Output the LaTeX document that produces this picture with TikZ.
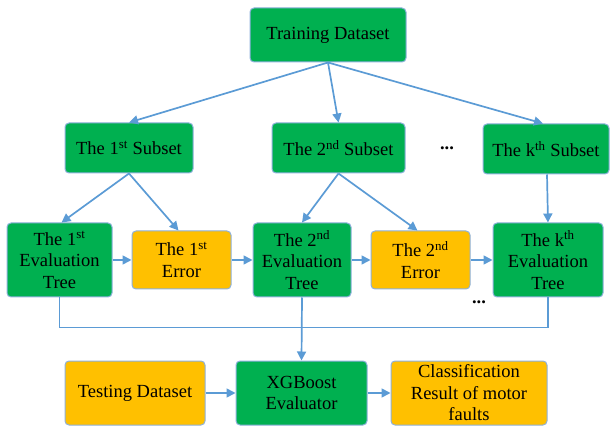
\documentclass[tikz,border=0pt]{standalone}
\usepackage{fontspec}
\setmainfont{Liberation Serif}
\usepackage{tikz}
\usetikzlibrary{arrows.meta}
\definecolor{boxgreen}{HTML}{00B050}
\definecolor{boxgold}{HTML}{FFC000}
\definecolor{rim}{HTML}{8EB1DC}
\definecolor{wire}{HTML}{5B9BD5}
\tikzset{
  box/.style={draw=rim, line width=1pt, rounded corners=4pt, align=center, inner sep=0pt,
    font=\fontsize{18.5}{21.5}\selectfont},
  gbox/.style={box, fill=boxgreen},
  obox/.style={box, fill=boxgold},
  wirel/.style={draw=wire, line width=1.7pt},
  flow/.style={wirel, -{Triangle[length=9pt,width=9pt]}},
  dots/.style={font=\fontsize{18.5}{21.5}\selectfont\bfseries},
}

\begin{document}
\begin{tikzpicture}[x=1pt,y=-1pt]
  \useasboundingbox (0,0) rectangle (610,427);

  % top level
  \node[gbox, minimum width=156pt, minimum height=54pt] (train) at (328,35) {Training Dataset};

  % subsets
  \node[gbox, minimum width=128pt, minimum height=50pt] (sub1) at (129,148) {The 1\textsuperscript{st} Subset};
  \node[gbox, minimum width=133pt, minimum height=50pt] (sub2) at (338.5,148) {The 2\textsuperscript{nd} Subset};
  \node[gbox, minimum width=126pt, minimum height=50pt] (subk) at (546,149) {The k\textsuperscript{th} Subset};
  \node[dots] (dots1) at (447,148) {...};

  % evaluation trees and errors
  \node[gbox, minimum width=105pt, minimum height=74pt] (eval1) at (59.5,260) {The 1\textsuperscript{st}\\Evaluation\\Tree};
  \node[obox, minimum width=99pt, minimum height=58pt] (err1) at (181.5,260) {The 1\textsuperscript{st}\\Error};
  \node[gbox, minimum width=98pt, minimum height=74pt] (eval2) at (302,260) {The 2\textsuperscript{nd}\\Evaluation\\Tree};
  \node[obox, minimum width=99pt, minimum height=58pt] (err2) at (420.5,260) {The 2\textsuperscript{nd}\\Error};
  \node[gbox, minimum width=110pt, minimum height=74pt] (evalk) at (548,260) {The k\textsuperscript{th}\\Evaluation\\Tree};
  \node[dots] (dots2) at (479,302) {...};

  % bottom row
  \node[obox, minimum width=140pt, minimum height=64pt] (test) at (135,393) {Testing Dataset};
  \node[gbox, minimum width=131pt, minimum height=64pt] (xgb) at (301.5,393) {XGBoost\\Evaluator};
  \node[obox, minimum width=156pt, minimum height=64pt] (cls) at (469,393) {Classification\\Result of motor\\faults};

  % connectors
  \draw[flow] (train.south) -- (sub1.north);
  \draw[flow] (train.south) -- (sub2.north);
  \draw[flow] (train.south) -- ([xshift=-3pt]subk.north);
  \draw[flow] (sub1.south) -- ([xshift=2pt]eval1.north);
  \draw[flow] (sub1.south) -- ([xshift=-3pt]err1.north);
  \draw[flow] (sub2.south) -- (eval2.north);
  \draw[flow] (sub2.south) -- ([xshift=-3pt]err2.north);
  \draw[flow] ([xshift=1pt]subk.south) -- (evalk.north);
  \draw[flow] (eval1) -- (err1);
  \draw[flow] (err1) -- (eval2);
  \draw[flow] (eval2) -- (err2);
  \draw[flow] (err2) -- (evalk);
  \draw[wirel] (eval1.south) -- ++(0,30) -| (evalk.south);
  \draw[flow] (eval2.south) -- (xgb.north);
  \draw[flow] (test) -- (xgb);
  \draw[flow] (xgb) -- (cls);
\end{tikzpicture}
\end{document}
